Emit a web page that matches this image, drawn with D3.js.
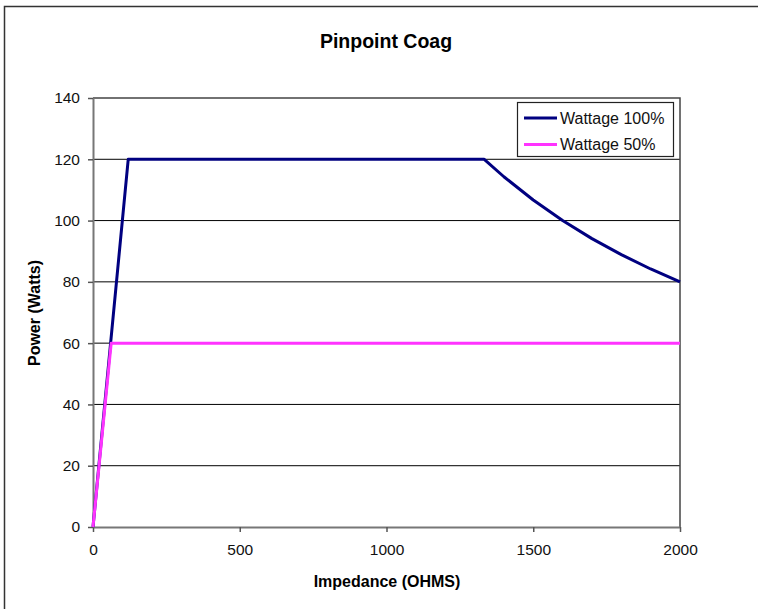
<!DOCTYPE html>
<html>
<head>
<meta charset="utf-8">
<script src="https://cdn.jsdelivr.net/npm/d3@7"></script>
<style>
  body { margin: 0; background: #fff; }
  svg { display: block; font-family: "Liberation Sans", Arial, sans-serif; }
</style>
</head>
<body>
<svg id="chart" width="758" height="609"></svg>
<script>
// data
var ohms100 = [0, 120, 1333, 1400, 1500, 1600, 1700, 1800, 1900, 2000];
var watts100 = [0, 120, 120, 114.3, 106.7, 100, 94.1, 88.9, 84.2, 80];
var ohms50 = [0, 62, 2000];
var watts50 = [0, 60, 60];
var xTicks = [0, 500, 1000, 1500, 2000];
var yTicks = [0, 20, 40, 60, 80, 100, 120, 140];
var seriesNames = ["Wattage 100%", "Wattage 50%"];
var seriesColors = ["#000080", "#ff33ff"];

var svg = d3.select("#chart");

// outer chart border
svg.append("rect")
    .attr("x", 4.5).attr("y", 6.5)
    .attr("width", 780).attr("height", 640)
    .attr("fill", "none").attr("stroke", "#333").attr("stroke-width", 1.5);

// plot box (note: "top" is taken by window.top)
var plotL = 93, plotR = 680, plotT = 98, plotB = 527;

var x = d3.scaleLinear().domain([0, 2000]).range([plotL, plotR]);
var y = d3.scaleLinear().domain([0, 140]).range([plotB, plotT]);

// gridlines
svg.append("g").selectAll("line")
    .data(yTicks.slice(1, -1))
    .enter().append("line")
    .attr("x1", plotL).attr("x2", plotR)
    .attr("y1", function (d) { return y(d); })
    .attr("y2", function (d) { return y(d); })
    .attr("stroke", "#000").attr("stroke-width", 1);

// plot frame top + right
svg.append("path")
    .attr("d", "M" + plotL + "," + plotT + "H" + plotR + "V" + plotB)
    .attr("fill", "none").attr("stroke", "#444").attr("stroke-width", 1.5);

// axes
var xAxis = svg.append("g")
    .attr("transform", "translate(0," + plotB + ")")
    .call(d3.axisBottom(x).tickValues(xTicks).tickFormat(d3.format("d"))
        .tickSize(5).tickPadding(12).tickSizeOuter(0));
var yAxis = svg.append("g")
    .attr("transform", "translate(" + plotL + ",0)")
    .call(d3.axisLeft(y).tickValues(yTicks).tickFormat(d3.format("d"))
        .tickSize(5).tickPadding(8).tickSizeOuter(0));

[xAxis, yAxis].forEach(function (a) {
    a.select(".domain").attr("stroke", "#777").attr("stroke-width", 2);
    a.selectAll(".tick line").attr("stroke", "#555").attr("stroke-width", 1.5);
    a.selectAll("text").attr("font-size", 15.5).attr("fill", "#111")
        .attr("font-family", "Liberation Sans, Arial, sans-serif");
});

// lines
var lineGen = d3.line()
    .x(function (d) { return x(d[0]); })
    .y(function (d) { return y(d[1]); });

var pts100 = ohms100.map(function (o, i) { return [o, watts100[i]]; });
var pts50 = ohms50.map(function (o, i) { return [o, watts50[i]]; });

svg.append("path")
    .attr("d", lineGen(pts100))
    .attr("fill", "none").attr("stroke", seriesColors[0]).attr("stroke-width", 3)
    .attr("stroke-linejoin", "round");
svg.append("path")
    .attr("d", lineGen(pts50))
    .attr("fill", "none").attr("stroke", seriesColors[1]).attr("stroke-width", 3)
    .attr("stroke-linejoin", "round");

// titles
svg.append("text")
    .attr("x", 386).attr("y", 48)
    .attr("text-anchor", "middle")
    .attr("font-size", 19.5).attr("font-weight", "bold")
    .text("Pinpoint Coag");

svg.append("text")
    .attr("x", 387).attr("y", 587)
    .attr("text-anchor", "middle")
    .attr("font-size", 16).attr("font-weight", "bold")
    .text("Impedance (OHMS)");

svg.append("text")
    .attr("transform", "translate(40,313) rotate(-90)")
    .attr("text-anchor", "middle")
    .attr("font-size", 16).attr("font-weight", "bold")
    .text("Power (Watts)");

// legend
var legend = svg.append("g");
legend.append("rect")
    .attr("x", 517.5).attr("y", 102.5)
    .attr("width", 156).attr("height", 54)
    .attr("fill", "#fff").attr("stroke", "#222").attr("stroke-width", 1.2);

seriesNames.forEach(function (name, i) {
    var ly = 118 + i * 26.5;
    legend.append("line")
        .attr("x1", 524).attr("x2", 557)
        .attr("y1", ly).attr("y2", ly)
        .attr("stroke", seriesColors[i]).attr("stroke-width", 3);
    legend.append("text")
        .attr("x", 560).attr("y", ly + 5.5)
        .attr("font-size", 16).attr("fill", "#111")
        .text(name);
});
</script>
</body>
</html>
